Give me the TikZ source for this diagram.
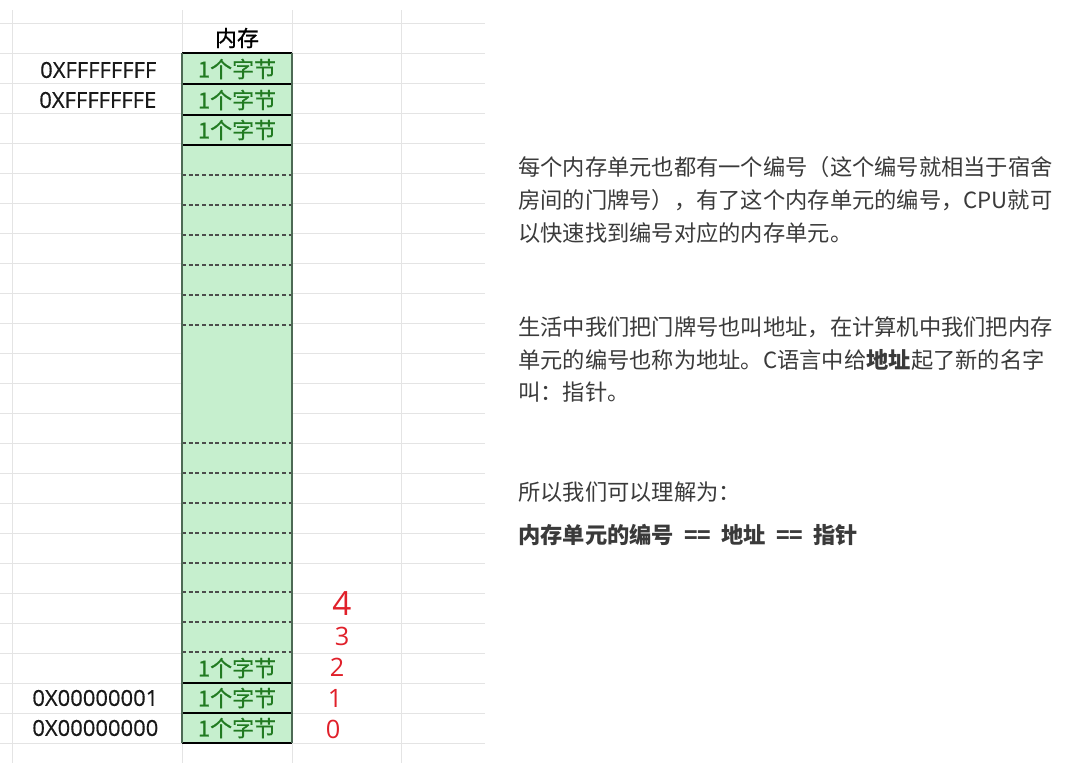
\documentclass[tikz,border=0pt]{standalone}
\usepackage{fontspec}
\setmainfont{Noto Sans CJK SC}
\newfontfamily\cellfont{Noto Sans CJK SC}[FakeBold=0.7]
\newfontfamily\addrfont{Open Sans}[FakeBold=0.5]
\newfontfamily\penfont{Open Sans}
\definecolor{cellfill}{HTML}{C6EFCE}
\definecolor{celltext}{HTML}{217A21}
\definecolor{gridgray}{HTML}{E4E4E4}
\definecolor{notegray}{HTML}{3A3A3A}
\definecolor{penred}{HTML}{E0202A}
\definecolor{sideline}{HTML}{4D6A55}

\begin{document}
\begin{tikzpicture}[x=0.75pt,y=-0.75pt,
    byte/.style={text=celltext,font=\cellfont\fontsize{16.5}{20}\selectfont},
    addr/.style={anchor=east,text=black!90,font=\addrfont\fontsize{16.5}{20}\selectfont},
    note/.style={anchor=west,inner sep=0pt,text=notegray,font=\fontsize{16.7}{20}\selectfont},
    digit/.style={text=penred,font=\penfont\fontsize{19}{22}\selectfont}]
        \useasboundingbox (0,0) rectangle (1080,763);

        % sheet grid
        \foreach \k in {0,...,24}
            \draw[gridgray] (0,{23+30*\k}) -- (485,{23+30*\k});
        \foreach \x in {12,182,292,401}
            \draw[gridgray] (\x,10) -- (\x,763);

        % memory column
        \fill[cellfill] (182,53) rectangle (292,743);
        \foreach \y in {175,205,235,265,295,325,443,473,503,533,563,592,622,652}
            \draw[black!70, line width=0.9pt, dash pattern=on 3pt off 2pt] (182,\y) -- (292,\y);
        \foreach \y in {53,84,115,145,683,713,743}
            \draw[black, line width=1.2pt] (182,\y) -- (292,\y);
        \draw[sideline, line width=1.4pt] (182,53) -- (182,743);
        \draw[sideline, line width=1.4pt] (292,53) -- (292,743);

        \node (head) at (237,38) {\cellfont\fontsize{16.5}{20}\selectfont 内存};

        % bytes at the top
        \node[byte] (top1) at (237,69) {1个字节};
        \node[byte] (top2) at (237,100) {1个字节};
        \node[byte] (top3) at (237,130) {1个字节};
        \node[addr] (addrF) at (161,70) {0XFFFFFFFF};
        \node[addr] (addrE) at (161,100) {0XFFFFFFFE};

        % bytes at the bottom
        \node[byte] (low2) at (237,668) {1个字节};
        \node[byte] (low1) at (237,698) {1个字节};
        \node[byte] (low0) at (237,728) {1个字节};
        \node[addr] (addr1) at (163,698) {0X00000001};
        \node[addr] (addr0) at (163,728) {0X00000000};

        % hand-written numbers
        \node[digit, font=\penfont\fontsize{25}{28}\selectfont] (n4) at (342,604) {4};
        \node[digit] (n3) at (342,636) {3};
        \node[digit] (n2) at (337,667) {2};
        \node[digit] (n1) at (335,698) {1};
        \node[digit] (n0) at (333,729) {0};

        % notes
        \node[note] (p1a) at (518,167) {每个内存单元也都有一个编号（这个编号就相当于宿舍};
        \node[note] (p1b) at (518,200) {房间的门牌号），有了这个内存单元的编号，CPU就可};
        \node[note] (p1c) at (518,233) {以快速找到编号对应的内存单元。};
        \node[note] (p2a) at (518,327) {生活中我们把门牌号也叫地址，在计算机中我们把内存};
        \node[note] (p2b) at (518,360) {单元的编号也称为地址。C语言中给\textbf{地址}起了新的名字};
        \node[note] (p2c) at (518,392) {叫：指针。};
        \node[note] (p3) at (518,492) {所以我们可以理解为：};
        \node[note] (p4) at (518,535) {\bfseries 内存单元的编号\ \ ==\ \ 地址\ \ ==\ \ 指针};
    \end{tikzpicture}
\end{document}
